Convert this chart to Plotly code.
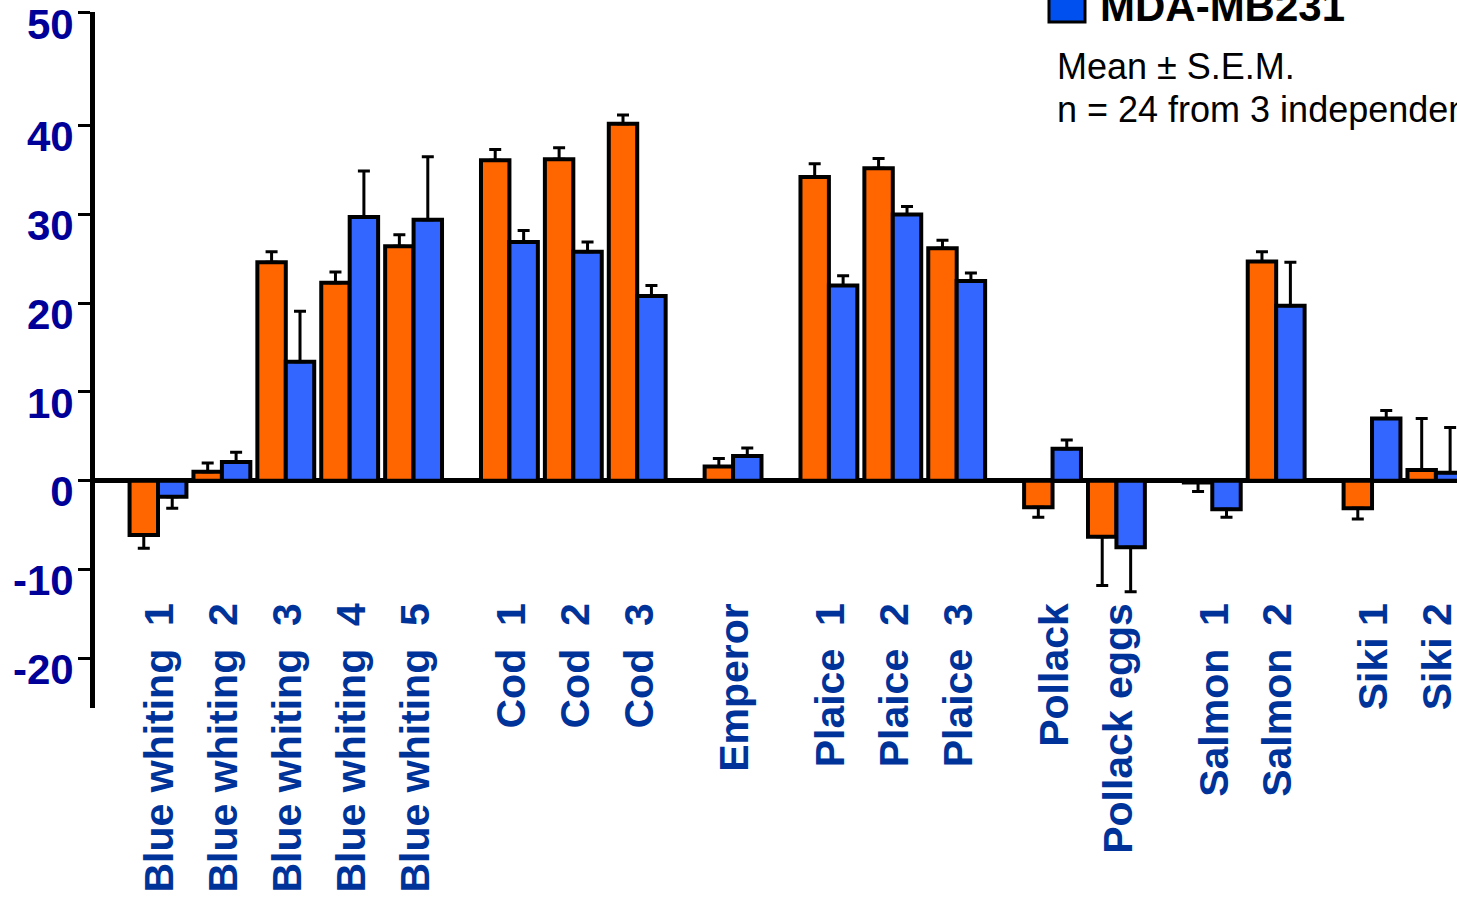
import plotly.graph_objects as go

# ---- data ----
categories = ["Blue whiting  1", "Blue whiting  2", "Blue whiting  3", "Blue whiting  4", "Blue whiting  5",
              "Cod  1", "Cod  2", "Cod  3", "Emperor",
              "Plaice  1", "Plaice  2", "Plaice  3",
              "Pollack", "Pollack eggs", "Salmon  1", "Salmon  2", "Siki 1", "Siki 2"]
groups = ["Blue whiting"] * 5 + ["Cod"] * 3 + ["Emperor"] + ["Plaice"] * 3 + \
         ["Pollack"] * 2 + ["Salmon"] * 2 + ["Siki"] * 2

orange_mean = [-6.1, 1.0, 24.6, 22.3, 26.4, 36.1, 36.2, 40.2, 1.6, 34.2, 35.2, 26.2,
               -3.0, -6.3, -0.2, 24.7, -3.1, 1.2]
orange_sem = [1.5, 1.0, 1.2, 1.2, 1.3, 1.2, 1.3, 1.0, 0.9, 1.5, 1.1, 0.9,
              1.1, 5.5, 1.0, 1.1, 1.2, 5.8]
blue_mean = [-1.8, 2.1, 13.4, 29.7, 29.4, 26.9, 25.8, 20.8, 2.8, 22.0, 30.0, 22.5,
             3.6, -7.5, -3.2, 19.7, 7.0, 0.9]
blue_sem = [1.3, 1.1, 5.7, 5.2, 7.1, 1.3, 1.1, 1.2, 0.9, 1.1, 0.9, 0.9,
            1.0, 5.0, 0.9, 4.9, 0.9, 5.1]

y_tick_labels = ["-20", "-10", "0", "10", "20", "30", "40", "50"]
y_tick_values = [-20, -10, 0, 10, 20, 30, 40, 52.7]

# ---- layout helpers ----
GROUP_GAP = 1.5
xpos = []
p = 0.0
for i, g in enumerate(groups):
    if i > 0:
        p += 1.0 if g == groups[i - 1] else GROUP_GAP
    xpos.append(p)

tick_text = [c.replace(" ", "\u00a0") for c in categories]


def err_parts(vals, errs):
    up = [e if v >= 0 else 0 for v, e in zip(vals, errs)]
    down = [e if v < 0 else 0 for v, e in zip(vals, errs)]
    return up, down


FONT = "Arial, Liberation Sans, sans-serif"

fig = go.Figure()
for name, vals, errs, color in [("Series 1", orange_mean, orange_sem, "#FF6600"),
                                ("MDA-MB231", blue_mean, blue_sem, "#3366FF")]:
    up, down = err_parts(vals, errs)
    fig.add_trace(go.Bar(
        x=xpos, y=vals, name=name,
        marker=dict(color=color, line=dict(color="black", width=4)),
        error_y=dict(type="data", symmetric=False, array=up, arrayminus=down,
                     color="black", thickness=3, width=6),
    ))

W, H = 1457, 904
ML, MR, MT, MB = 95, 0, 12, 196
PW, PH = W - ML - MR, H - MT - MB


def px_x(X):
    return (X - ML) / PW


def px_y(Y):
    return (H - MB - Y) / PH


fig.update_layout(
    width=W, height=H,
    margin=dict(l=ML, r=MR, t=MT, b=MB, pad=0, autoexpand=False),
    barmode="group", bargap=0.11, bargroupgap=0,
    plot_bgcolor="white", paper_bgcolor="white",
    showlegend=False,
    font=dict(family=FONT),
    xaxis=dict(
        range=[-0.986, 20.33], tickvals=xpos, ticktext=tick_text,
        tickangle=-90, anchor="free", position=px_y(594), automargin=False,
        showline=False, showgrid=False, zeroline=False, ticks="",
        tickfont=dict(family=FONT, size=41, color="#003399", weight="bold"),
        ticklabelshift=2, ticklabeloverflow="allow",
    ),
    yaxis=dict(
        range=[-25.6, 52.8], tickvals=y_tick_values, ticktext=y_tick_labels,
        automargin=False,
        showline=True, linewidth=5, linecolor="black",
        ticks="outside", ticklen=12, tickwidth=3, tickcolor="black",
        showgrid=False, zeroline=True, zerolinecolor="black", zerolinewidth=5,
        tickfont=dict(family=FONT, size=42, color="#000099", weight="bold"),
        ticklabeloverflow="allow", ticklabelshift=11, ticklabelstandoff=-4,
    ),
    shapes=[dict(type="rect", xref="paper", yref="paper",
                 x0=px_x(1049), x1=px_x(1085), y0=px_y(22), y1=px_y(-20),
                 fillcolor="#0050F0", line=dict(color="black", width=3))],
    annotations=[
        dict(text="MDA-MB231", xref="paper", yref="paper", x=px_x(1098), y=px_y(6),
             xanchor="left", yanchor="middle", showarrow=False,
             font=dict(family=FONT, size=42, color="black", weight="bold")),
        dict(text="Mean ± S.E.M.", xref="paper", yref="paper", x=px_x(1055), y=px_y(66),
             xanchor="left", yanchor="middle", showarrow=False,
             font=dict(family=FONT, size=36, color="black")),
        dict(text="n = 24 from 3 independent experiments", xref="paper", yref="paper",
             x=px_x(1055), y=px_y(110),
             xanchor="left", yanchor="middle", showarrow=False,
             font=dict(family=FONT, size=36, color="black")),
    ],
)

fig.write_html("out.html", config={"displayModeBar": False},
               post_script="document.body.style.margin='0';document.body.style.overflow='hidden';")
